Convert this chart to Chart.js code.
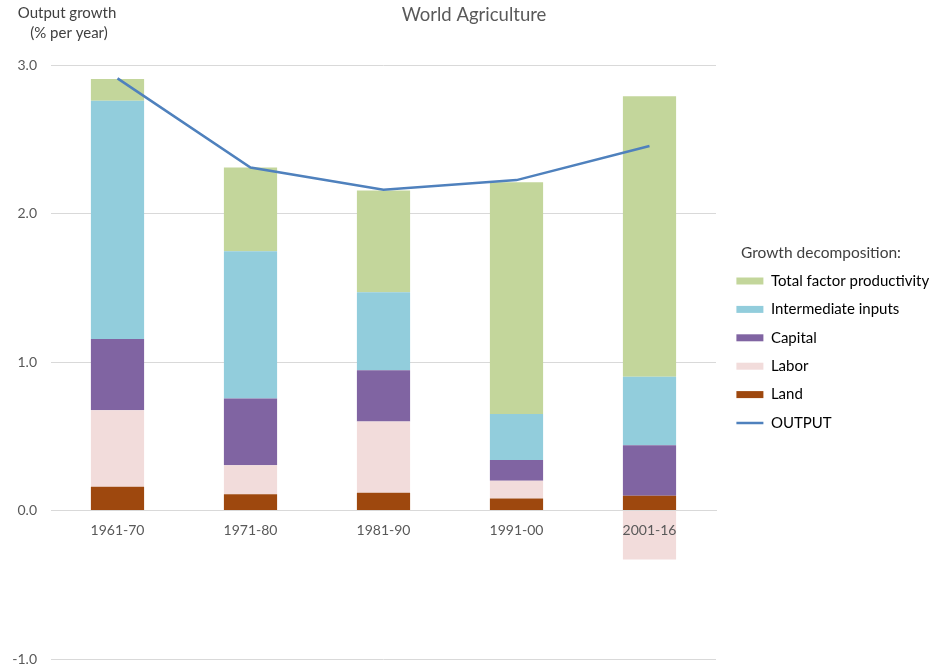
<!DOCTYPE html>
<html>
<head>
<meta charset="utf-8">
<script src="https://cdn.jsdelivr.net/npm/chart.js@4.4.1/dist/chart.umd.min.js"></script>
<style>
  html, body { margin: 0; padding: 0; background: #fff; }
  #wrap { width: 933px; height: 664px; position: relative; }
</style>
</head>
<body>
<div id="wrap"><canvas id="agChart"></canvas></div>
<script>
// data (% per year)
const periods = ['1961-70', '1971-80', '1981-90', '1991-00', '2001-16'];
const land = [0.16, 0.11, 0.12, 0.08, 0.10];
const labor = [0.515, 0.195, 0.48, 0.12, -0.33];
const capital = [0.48, 0.45, 0.345, 0.14, 0.34];
const intermediate = [1.605, 0.99, 0.525, 0.31, 0.46];
const tfp = [0.145, 0.565, 0.685, 1.56, 1.89];
const output = [2.91, 2.31, 2.16, 2.225, 2.455];
const yTicks = [-1, 0, 1, 2, 3];

const FONT = 'Lato';
const GREY = '#595959';

// extra text: chart title, y axis caption, legend heading
const chartText = {
  id: 'chartText',
  afterLayout(chart) {
    // nudge the legend block to where the reference has it
    const lg = chart.legend;
    lg.left += 7; lg.right += 7;
    lg.top -= 10; lg.bottom -= 10;
  },
  afterDraw(chart) {
    const ctx = chart.ctx;
    ctx.save();
    ctx.textBaseline = 'middle';
    ctx.textAlign = 'center';
    ctx.fillStyle = GREY;
    ctx.font = '18.5px ' + FONT;
    ctx.fillText('World Agriculture', 474, 15);
    ctx.fillStyle = '#404040';
    ctx.font = '15px ' + FONT;
    ctx.fillText('Output growth', 67, 13);
    ctx.fillText('(% per year)', 69, 33);
    ctx.textAlign = 'left';
    ctx.font = '15.5px ' + FONT;
    const first = chart.legend.legendHitBoxes[0];
    ctx.fillText('Growth decomposition:', 741, first.top + 8 - 29);
    ctx.restore();
  }
};

const ctx = document.getElementById('agChart').getContext('2d');
new Chart(ctx, {
  data: {
    labels: periods,
    datasets: [
      { type: 'line', label: 'OUTPUT', data: output, borderColor: '#4F81BD', backgroundColor: '#4F81BD',
        borderWidth: 2.5, pointRadius: 0, tension: 0, stack: 'out', order: 0 },
      { type: 'bar', label: 'Land', data: land, backgroundColor: '#9E480E', order: 1 },
      { type: 'bar', label: 'Labor', data: labor, backgroundColor: '#F2DCDB', order: 1 },
      { type: 'bar', label: 'Capital', data: capital, backgroundColor: '#8064A2', order: 1 },
      { type: 'bar', label: 'Intermediate inputs', data: intermediate, backgroundColor: '#92CDDC', order: 1 },
      { type: 'bar', label: 'Total factor productivity', data: tfp, backgroundColor: '#C3D69B', order: 1 }
    ]
  },
  options: {
    responsive: true,
    maintainAspectRatio: false,
    animation: false,
    devicePixelRatio: 1,
    layout: { padding: { top: 65, right: 3, bottom: 5, left: 0 } },
    datasets: { bar: { barPercentage: 0.4, categoryPercentage: 1 } },
    scales: {
      x: {
        stacked: true,
        position: { y: 0 },
        grid: { display: false, drawTicks: false },
        border: { display: true, color: '#d9d9d9' },
        // z: 1 so the labels sit on top of the negative bar
        ticks: { z: 1, color: GREY, font: { family: FONT, size: 14 }, padding: 12 },
        afterFit(s) { s.height = 0; }
      },
      y: {
        stacked: true,
        min: -1,
        max: 3,
        grid: { color: '#d9d9d9', drawTicks: false },
        border: { display: false },
        afterBuildTicks(s) { s.ticks = yTicks.map(v => ({ value: v })); },
        ticks: { padding: 14, color: GREY, font: { family: FONT, size: 14 },
                 callback: v => v.toFixed(1) },
        afterFit(s) { s.width = 51; s.paddingTop = 0; s.paddingBottom = 0; }
      }
    },
    plugins: {
      title: { display: false },
      tooltip: { enabled: false },
      legend: {
        position: 'right',
        maxWidth: 214,
        labels: {
          usePointStyle: true,
          pointStyleWidth: 27,
          boxHeight: 7,
          padding: 13.4,
          color: GREY,
          font: { family: FONT, size: 15 },
          generateLabels(chart) {
            return chart.data.datasets.map((ds, i) => ({
              text: ds.label,
              fillStyle: ds.backgroundColor,
              strokeStyle: ds.type === 'line' ? ds.borderColor : ds.backgroundColor,
              lineWidth: ds.type === 'line' ? 2.5 : 0,
              pointStyle: ds.type === 'line' ? 'line' : 'rect',
              datasetIndex: i,
              hidden: false
            })).reverse();
          }
        }
      }
    }
  },
  plugins: [chartText]
});
</script>
</body>
</html>
